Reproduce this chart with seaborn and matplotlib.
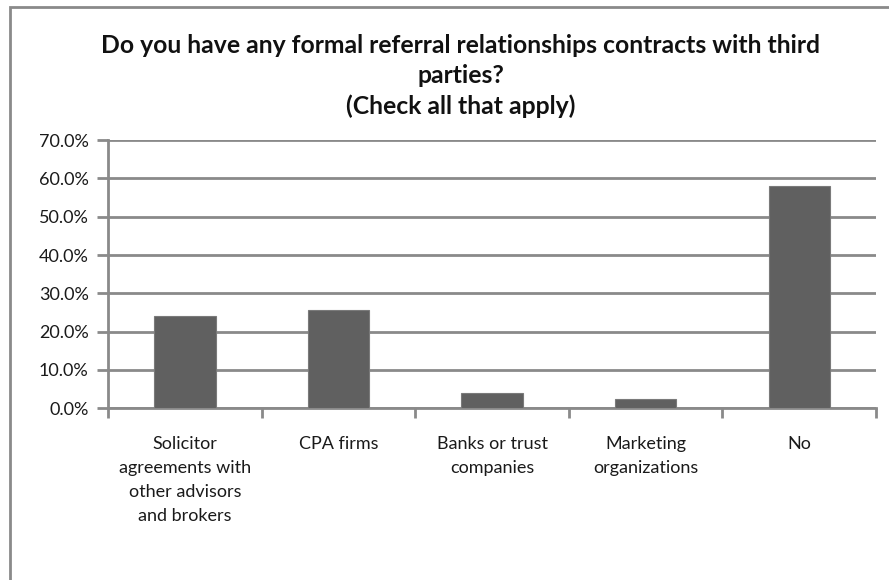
import matplotlib
matplotlib.use("Agg")
import matplotlib.pyplot as plt
from matplotlib.patches import Rectangle
from matplotlib.ticker import FuncFormatter, FixedLocator
import seaborn as sns
import pandas as pd

categories = [
    "Solicitor\nagreements with\nother advisors\nand brokers",
    "CPA firms",
    "Banks or trust\ncompanies",
    "Marketing\norganizations",
    "No",
]
shares = [24.0, 25.6, 3.9, 2.4, 57.9]
y_ticks = [0, 10, 20, 30, 40, 50, 60, 70]
title = ("Do you have any formal referral relationships contracts with third\n"
         "parties?\n(Check all that apply)")

df = pd.DataFrame({"category": categories, "share": shares})

sns.set_theme(style="white")
plt.rcParams["font.family"] = ["Lato", "DejaVu Sans"]

grid_gray = "#8a8a8a"
bar_gray = "#606060"

fig = plt.figure(figsize=(8.89, 5.80), dpi=100)
ax = fig.add_axes([0.1215, 0.296, 0.864, 0.4626])

sns.barplot(data=df, x="category", y="share", color=bar_gray, width=0.4,
            edgecolor="#7a7a7a", linewidth=0.8, saturation=1, ax=ax, zorder=3)

ax.set_ylim(0, 70)
ax.set_xlim(-0.5, len(categories) - 0.5)
ax.yaxis.set_major_locator(FixedLocator(y_ticks))
ax.yaxis.set_major_formatter(FuncFormatter(lambda v, _: f"{v:.1f}%"))
ax.yaxis.grid(True, color=grid_gray, linewidth=2, zorder=0)
ax.set_axisbelow(True)

# category boundary ticks on the x axis
ax.xaxis.set_minor_locator(FixedLocator([i - 0.5 for i in range(len(categories) + 1)]))
ax.tick_params(axis="x", which="major", length=0, pad=20, labelsize=13, labelcolor="#1a1a1a")
ax.tick_params(axis="x", which="minor", length=7, width=2, color=grid_gray, direction="out",
               bottom=True)
ax.tick_params(axis="y", which="major", length=8, width=2, color=grid_gray, direction="out",
               left=True, pad=6, labelsize=13, labelcolor="#1a1a1a")
for lbl in ax.get_xticklabels():
    lbl.set_linespacing(1.62)
    lbl.set_verticalalignment("top")

for side in ("top", "right"):
    ax.spines[side].set_visible(False)
for side in ("left", "bottom"):
    ax.spines[side].set_color(grid_gray)
    ax.spines[side].set_linewidth(2)

ax.set_xlabel("")
ax.set_ylabel("")

fig.text(0.518, 0.942, title, ha="center", va="top", fontsize=17.8, fontweight="bold",
         color="#111111", linespacing=1.38)

# chart area frame
fig.add_artist(Rectangle((10 / 889, -0.2), 1.2, 1.2 - 7 / 580, transform=fig.transFigure,
                         fill=False, edgecolor=grid_gray, linewidth=2))

fig.savefig("out.png", dpi=100, facecolor="white")
